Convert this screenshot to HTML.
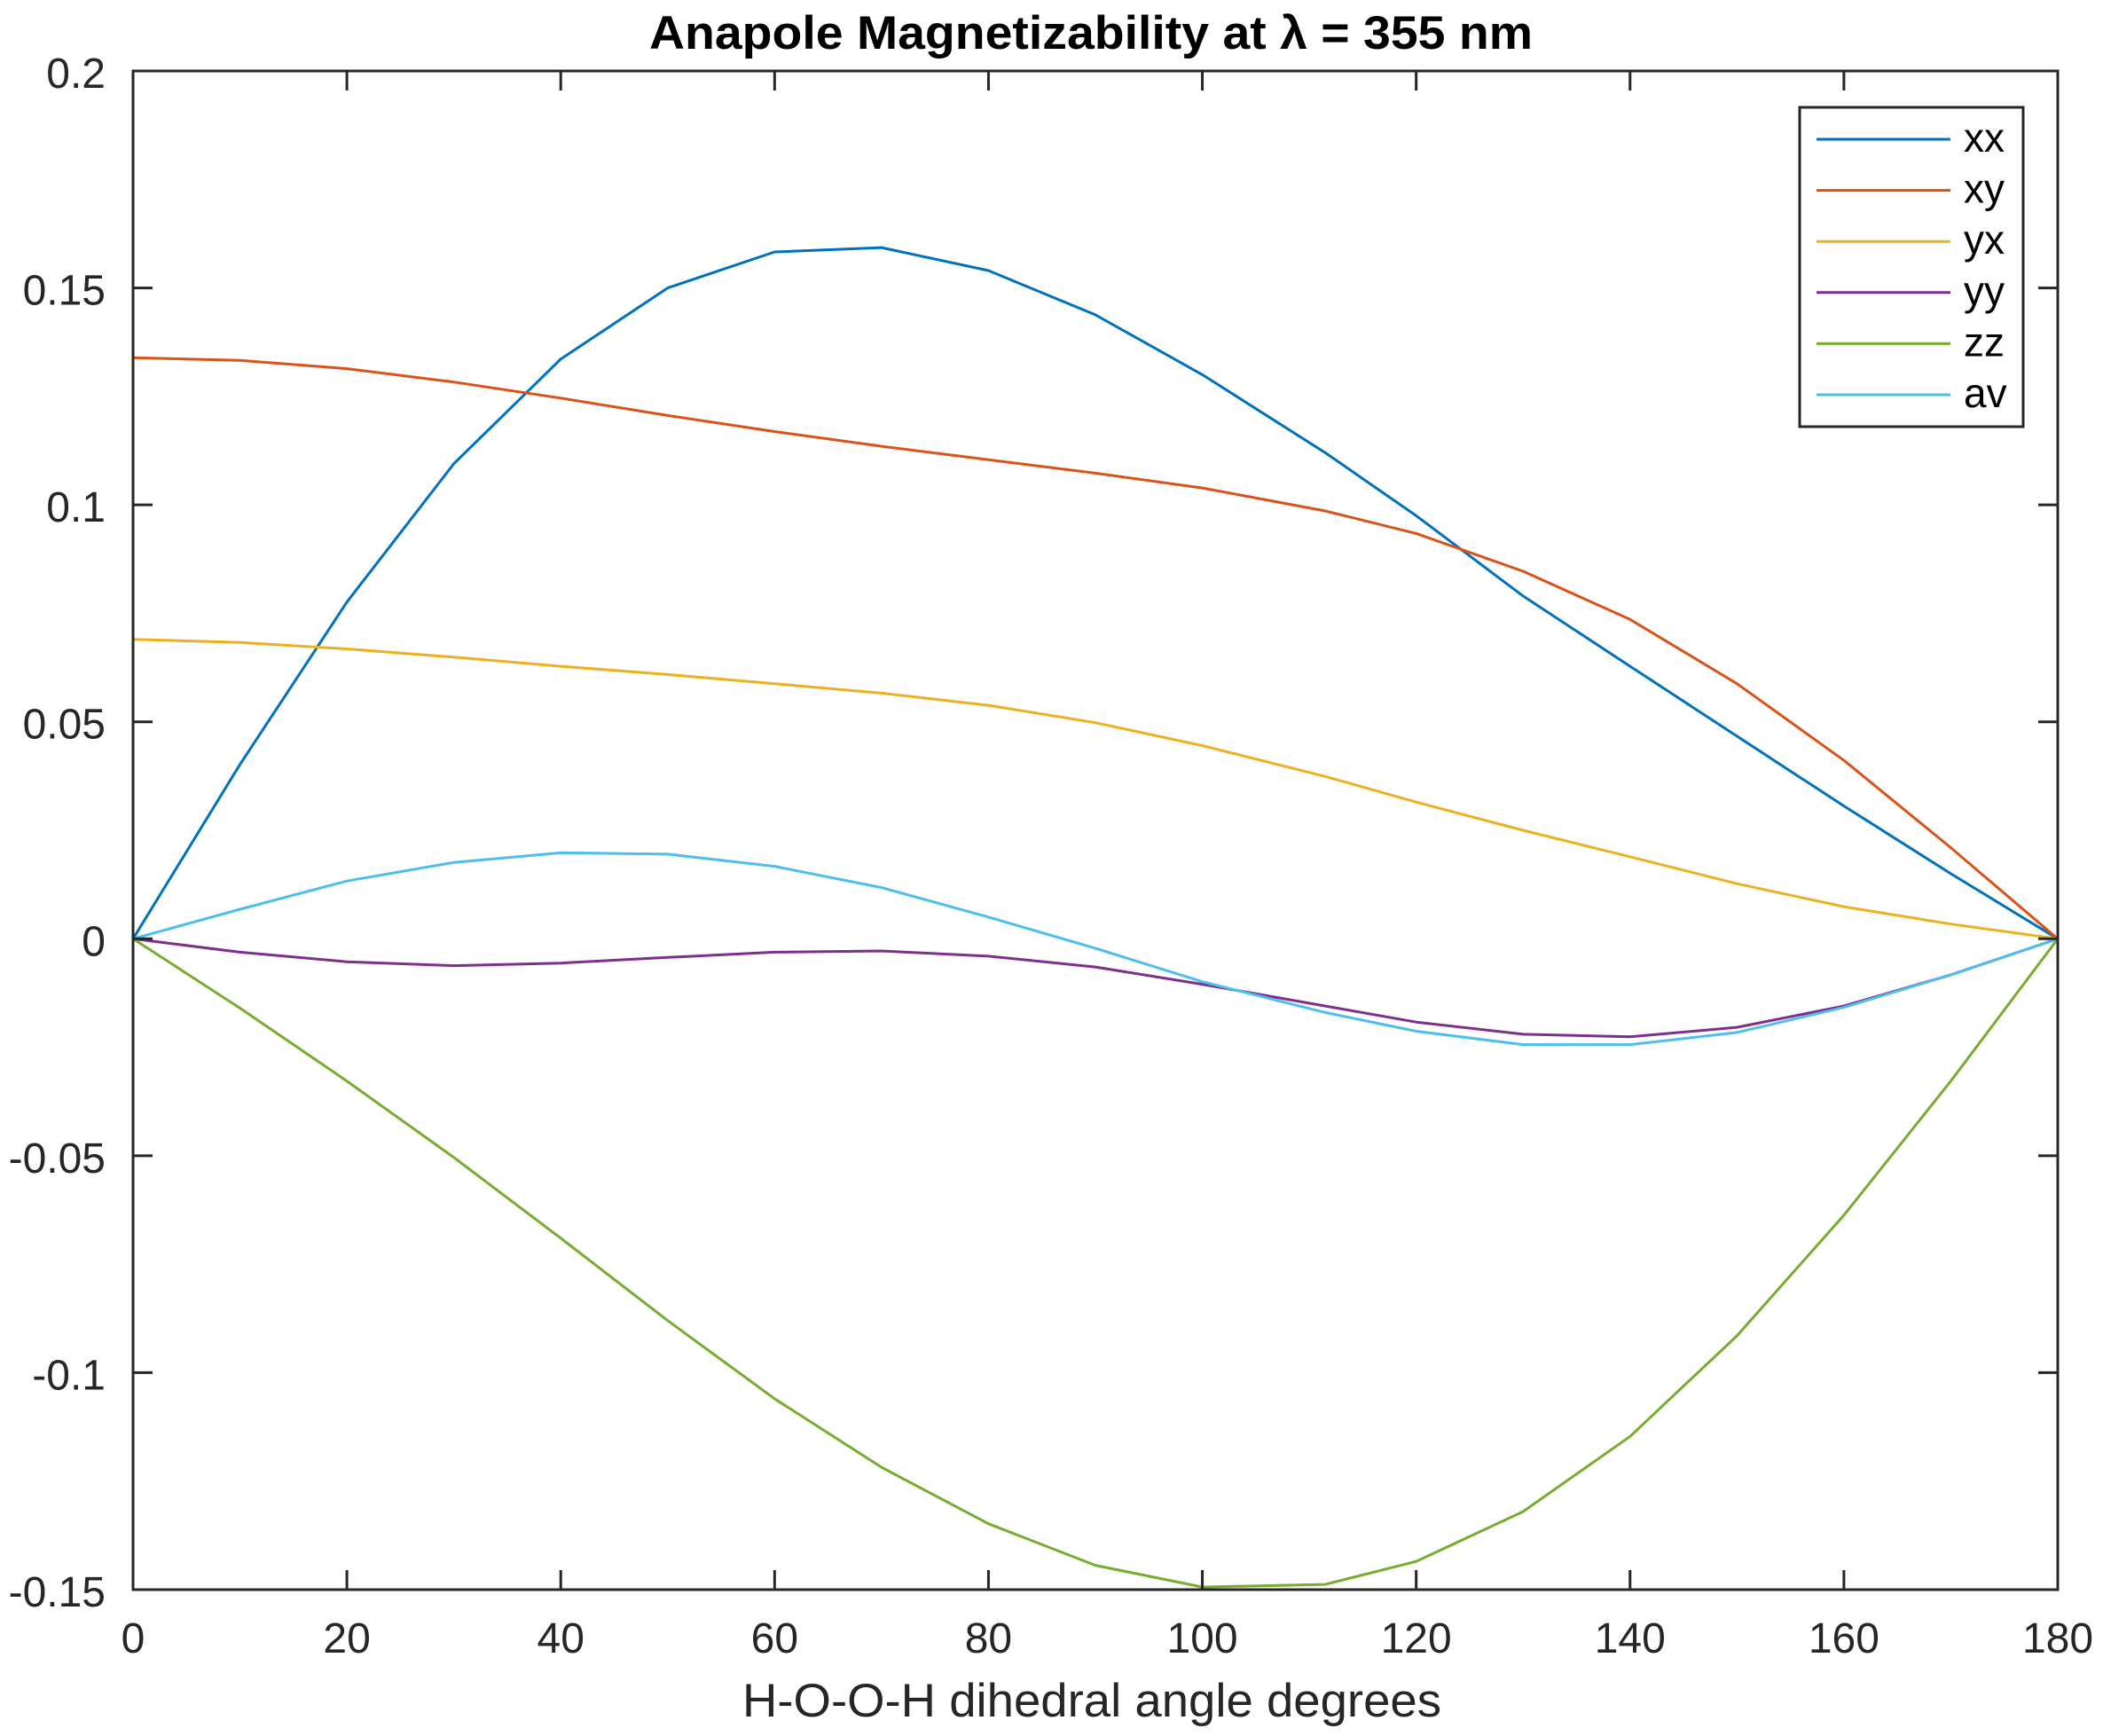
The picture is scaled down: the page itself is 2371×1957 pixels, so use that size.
<!DOCTYPE html>
<html><head><meta charset="utf-8"><style>html,body{margin:0;padding:0;background:#fff}svg{display:block}</style></head>
<body>
<svg id="s" width="2371" height="1957" viewBox="0 0 2371 1957" xmlns="http://www.w3.org/2000/svg" font-family="Liberation Sans, sans-serif">
<rect width="2371" height="1957" fill="#fff"/>
<g id="series" fill="none" stroke-width="3" stroke-linejoin="round"></g>
<g id="axes" stroke="#262626" stroke-width="3" fill="none"></g>
<g id="labels" fill="#262626" font-size="48"></g>
<text x="1230" y="55" text-anchor="middle" font-weight="bold" font-size="53" fill="#000" textLength="996" lengthAdjust="spacingAndGlyphs">Anapole Magnetizability at λ = 355 nm</text>
<text x="1231" y="1935" text-anchor="middle" font-size="53" fill="#262626" textLength="788" lengthAdjust="spacingAndGlyphs">H-O-O-H dihedral angle degrees</text>
<rect x="2029" y="121" width="252" height="360" fill="#fff" stroke="#262626" stroke-width="3"/>
<g id="legend"></g>
</svg>
<script>
var L=150,R=2320,T=80,B=1792;
function X(d){return L+d/180*(R-L);}
function Y(v){return T+(0.2-v)/0.35*(B-T);}
var ang=[0,10,20,30,40,50,60,70,80,90,100,111.5,120,130,140,150,160,170,180];
var S=[
["xx","#0072BD",[0,0.0402,0.0776,0.1095,0.1336,0.15,0.1583,0.1593,0.154,0.1438,0.13,0.112,0.0975,0.079,0.0628,0.0467,0.0306,0.015,0]],
["xy","#D95319",[0.1339,0.1333,0.1314,0.1283,0.1246,0.1206,0.1169,0.1135,0.1104,0.1073,0.1039,0.0986,0.0934,0.0847,0.0736,0.0588,0.0411,0.021,0]],
["yx","#EDB120",[0.069,0.0683,0.0668,0.0649,0.0628,0.0609,0.0588,0.0566,0.0538,0.0498,0.0445,0.0374,0.0315,0.025,0.0189,0.0127,0.0074,0.0034,0]],
["yy","#7E2F8E",[0,-0.0031,-0.0053,-0.0062,-0.0056,-0.0043,-0.0031,-0.0028,-0.004,-0.0065,-0.0105,-0.0155,-0.0192,-0.022,-0.0226,-0.0204,-0.0155,-0.0083,0]],
["zz","#77AC30",[0,-0.016,-0.0328,-0.0504,-0.069,-0.088,-0.106,-0.1218,-0.1348,-0.1444,-0.1494,-0.1488,-0.1435,-0.132,-0.1147,-0.0915,-0.0637,-0.0328,0]],
["av","#4DBEEE",[0,0.0068,0.0133,0.0176,0.0198,0.0195,0.0167,0.0118,0.005,-0.0022,-0.0099,-0.017,-0.0213,-0.0244,-0.0244,-0.0216,-0.0158,-0.0083,0]]
];
var ns="http://www.w3.org/2000/svg";
function el(p,t,a,txt){var e=document.createElementNS(ns,t);for(var k in a)e.setAttribute(k,a[k]);if(txt!=null)e.textContent=txt;p.appendChild(e);return e;}
var g=document.getElementById("series"),ax=document.getElementById("axes"),lb=document.getElementById("labels"),lg=document.getElementById("legend");
S.forEach(function(s,i){
  el(g,"polyline",{points:ang.map(function(a,j){return X(a).toFixed(1)+","+Y(s[2][j]).toFixed(1);}).join(" "),stroke:s[1]});
  var ly=157+i*57.6;
  el(lg,"line",{x1:2048,x2:2199,y1:ly,y2:ly,stroke:s[1],"stroke-width":3});
  el(lg,"text",{x:2214,y:ly+14,"font-size":46,fill:"#000"},s[0]);
});
el(ax,"rect",{x:L,y:T,width:R-L,height:B-T});
for(var d=0;d<=180;d+=20){var x=X(d);
  el(ax,"line",{x1:x,x2:x,y1:B,y2:B-22});el(ax,"line",{x1:x,x2:x,y1:T,y2:T+22});
  el(lb,"text",{x:x,y:1863,"text-anchor":"middle"},String(d));}
var yt=[0.2,0.15,0.1,0.05,0,-0.05,-0.1,-0.15],ys=["0.2","0.15","0.1","0.05","0","-0.05","-0.1","-0.15"];
yt.forEach(function(v,i){var y=Y(v);
  el(ax,"line",{x1:L,x2:L+22,y1:y,y2:y});el(ax,"line",{x1:R,x2:R-22,y1:y,y2:y});
  el(lb,"text",{x:119,y:y+19,"text-anchor":"end"},ys[i]);});
</script>
</body></html>
